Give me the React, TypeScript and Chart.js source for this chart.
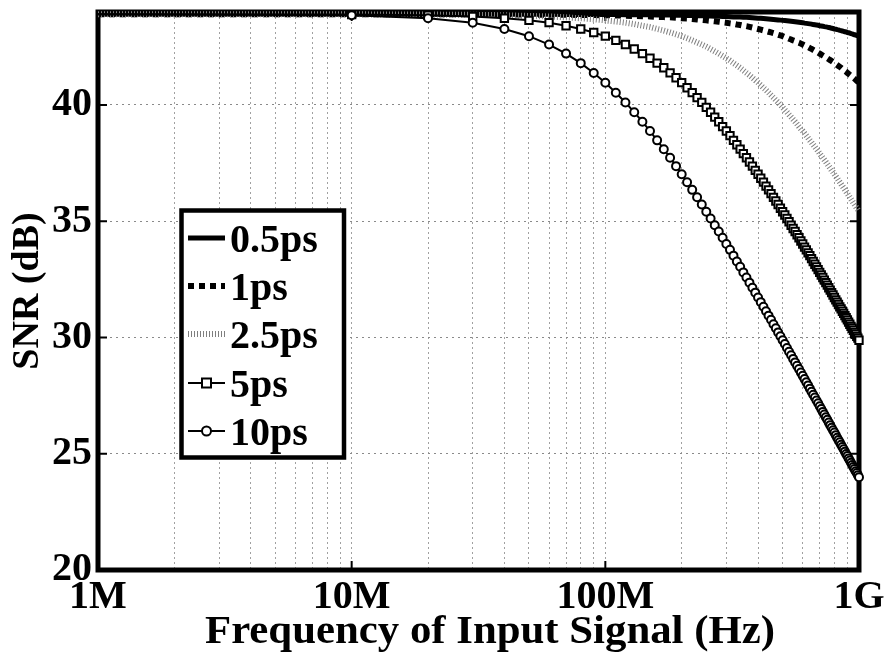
import React, { useEffect, useRef } from 'react';
import { Chart, registerables } from 'chart.js';

Chart.register(...registerables);

// Input frequency (MHz)
const freqMHz = [
  1,
  10, 20, 30, 40, 50, 60, 70, 80, 90, 100,
  110, 120, 130, 140, 150, 160, 170, 180, 190, 200,
  210, 220, 230, 240, 250, 260, 270, 280, 290, 300,
  310, 320, 330, 340, 350, 360, 370, 380, 390, 400,
  410, 420, 430, 440, 450, 460, 470, 480, 490, 500,
  510, 520, 530, 540, 550, 560, 570, 580, 590, 600,
  610, 620, 630, 640, 650, 660, 670, 680, 690, 700,
  710, 720, 730, 740, 750, 760, 770, 780, 790, 800,
  810, 820, 830, 840, 850, 860, 870, 880, 890, 900,
  910, 920, 930, 940, 950, 960, 970, 980, 990, 1000,
];

const snr05ps = [
  43.90,
  43.90, 43.90, 43.90, 43.90, 43.90, 43.90, 43.89, 43.89, 43.89, 43.89,
  43.89, 43.88, 43.88, 43.88, 43.88, 43.87, 43.87, 43.87, 43.86, 43.86,
  43.85, 43.85, 43.84, 43.84, 43.83, 43.83, 43.82, 43.82, 43.81, 43.81,
  43.80, 43.79, 43.79, 43.78, 43.77, 43.77, 43.76, 43.75, 43.74, 43.73,
  43.73, 43.72, 43.71, 43.70, 43.69, 43.68, 43.67, 43.66, 43.65, 43.64,
  43.63, 43.62, 43.61, 43.60, 43.59, 43.58, 43.57, 43.56, 43.55, 43.54,
  43.52, 43.51, 43.50, 43.49, 43.48, 43.46, 43.45, 43.44, 43.43, 43.41,
  43.40, 43.39, 43.37, 43.36, 43.35, 43.33, 43.32, 43.30, 43.29, 43.27,
  43.26, 43.24, 43.23, 43.21, 43.20, 43.18, 43.17, 43.15, 43.14, 43.12,
  43.11, 43.09, 43.07, 43.06, 43.04, 43.02, 43.01, 42.99, 42.98, 42.96,
];

const snr1ps = [
  43.90,
  43.90, 43.90, 43.90, 43.89, 43.89, 43.88, 43.88, 43.87, 43.87, 43.86,
  43.85, 43.84, 43.83, 43.82, 43.81, 43.79, 43.78, 43.77, 43.75, 43.73,
  43.72, 43.70, 43.68, 43.66, 43.64, 43.62, 43.60, 43.58, 43.56, 43.54,
  43.51, 43.49, 43.46, 43.44, 43.41, 43.39, 43.36, 43.33, 43.30, 43.27,
  43.24, 43.21, 43.18, 43.15, 43.12, 43.09, 43.06, 43.02, 42.99, 42.96,
  42.92, 42.89, 42.85, 42.82, 42.78, 42.75, 42.71, 42.68, 42.64, 42.60,
  42.56, 42.52, 42.49, 42.45, 42.41, 42.37, 42.33, 42.29, 42.25, 42.21,
  42.17, 42.13, 42.09, 42.05, 42.01, 41.97, 41.93, 41.89, 41.85, 41.80,
  41.76, 41.72, 41.68, 41.64, 41.60, 41.55, 41.51, 41.47, 41.43, 41.38,
  41.34, 41.30, 41.26, 41.21, 41.17, 41.13, 41.09, 41.04, 41.00, 40.96,
];

const snr25ps = [
  43.90,
  43.90, 43.89, 43.88, 43.86, 43.83, 43.81, 43.77, 43.73, 43.69, 43.64,
  43.59, 43.54, 43.48, 43.41, 43.35, 43.27, 43.20, 43.12, 43.04, 42.96,
  42.87, 42.78, 42.69, 42.60, 42.51, 42.41, 42.31, 42.21, 42.11, 42.01,
  41.91, 41.80, 41.70, 41.60, 41.49, 41.38, 41.28, 41.17, 41.06, 40.96,
  40.85, 40.74, 40.64, 40.53, 40.42, 40.32, 40.21, 40.11, 40.00, 39.90,
  39.79, 39.69, 39.58, 39.48, 39.38, 39.28, 39.18, 39.07, 38.97, 38.88,
  38.78, 38.68, 38.58, 38.48, 38.39, 38.29, 38.20, 38.10, 38.01, 37.91,
  37.82, 37.73, 37.64, 37.55, 37.46, 37.37, 37.28, 37.19, 37.11, 37.02,
  36.93, 36.85, 36.76, 36.68, 36.60, 36.51, 36.43, 36.35, 36.27, 36.19,
  36.11, 36.03, 35.95, 35.87, 35.79, 35.72, 35.64, 35.56, 35.49, 35.41,
];

const snr5ps = [
  43.90,
  43.89, 43.86, 43.81, 43.73, 43.64, 43.54, 43.41, 43.27, 43.12, 42.96,
  42.78, 42.60, 42.41, 42.21, 42.01, 41.80, 41.60, 41.38, 41.17, 40.96,
  40.74, 40.53, 40.32, 40.11, 39.90, 39.69, 39.48, 39.28, 39.07, 38.88,
  38.68, 38.48, 38.29, 38.10, 37.91, 37.73, 37.55, 37.37, 37.19, 37.02,
  36.85, 36.68, 36.51, 36.35, 36.19, 36.03, 35.87, 35.72, 35.56, 35.41,
  35.27, 35.12, 34.98, 34.83, 34.69, 34.56, 34.42, 34.29, 34.15, 34.02,
  33.89, 33.77, 33.64, 33.52, 33.39, 33.27, 33.15, 33.04, 32.92, 32.80,
  32.69, 32.58, 32.47, 32.36, 32.25, 32.14, 32.04, 31.93, 31.83, 31.72,
  31.62, 31.52, 31.42, 31.32, 31.23, 31.13, 31.04, 30.94, 30.85, 30.76,
  30.66, 30.57, 30.48, 30.40, 30.31, 30.22, 30.14, 30.05, 29.97, 29.88,
];

const snr10ps = [
  43.90,
  43.86, 43.73, 43.54, 43.27, 42.96, 42.60, 42.21, 41.80, 41.38, 40.96,
  40.53, 40.11, 39.69, 39.28, 38.88, 38.48, 38.10, 37.73, 37.37, 37.02,
  36.68, 36.35, 36.03, 35.72, 35.41, 35.12, 34.83, 34.56, 34.29, 34.02,
  33.77, 33.52, 33.27, 33.04, 32.80, 32.58, 32.36, 32.14, 31.93, 31.72,
  31.52, 31.32, 31.13, 30.94, 30.76, 30.57, 30.40, 30.22, 30.05, 29.88,
  29.72, 29.55, 29.39, 29.24, 29.08, 28.93, 28.78, 28.64, 28.49, 28.35,
  28.21, 28.07, 27.94, 27.80, 27.67, 27.54, 27.42, 27.29, 27.17, 27.04,
  26.92, 26.80, 26.69, 26.57, 26.46, 26.34, 26.23, 26.12, 26.01, 25.91,
  25.80, 25.69, 25.59, 25.49, 25.39, 25.29, 25.19, 25.09, 24.99, 24.90,
  24.80, 24.71, 24.61, 24.52, 24.43, 24.34, 24.25, 24.17, 24.08, 23.99,
];

const seriesLabels = ['0.5ps', '1ps', '2.5ps', '5ps', '10ps'];
const xTickValues = [1e6, 1e7, 1e8, 1e9];
const xTickLabels = ['1M', '10M', '100M', '1G'];
const yTickValues = [20, 25, 30, 35, 40];
const xTitle = 'Frequency of Input Signal (Hz)';
const yTitle = 'SNR (dB)';

const FONT = '"Liberation Serif", "Times New Roman", Times, serif';

const toPoints = (ys: number[]) => ys.map((y, i) => ({ x: freqMHz[i] * 1e6, y }));
const markerRadii = (r: number) => freqMHz.map((_, i) => (i === 0 ? 0 : r));

const framePlugin = {
  id: 'matlabFrame',
  beforeDatasetsDraw(chart: any) {
    const { ctx, chartArea: a, scales } = chart;
    ctx.save();
    ctx.strokeStyle = '#000';
    ctx.lineWidth = 2;
    ctx.beginPath();
    xTickValues.forEach((v) => {
      const px = scales.x.getPixelForValue(v);
      ctx.moveTo(px, a.bottom);
      ctx.lineTo(px, a.bottom - 9);
      ctx.moveTo(px, a.top);
      ctx.lineTo(px, a.top + 9);
    });
    yTickValues.forEach((v) => {
      const py = scales.y.getPixelForValue(v);
      ctx.moveTo(a.left, py);
      ctx.lineTo(a.left + 9, py);
      ctx.moveTo(a.right, py);
      ctx.lineTo(a.right - 9, py);
    });
    ctx.stroke();
    ctx.lineWidth = 5;
    ctx.strokeRect(a.left, a.top, a.right - a.left, a.bottom - a.top);
    ctx.restore();
  },
};

// x-axis title, drawn slightly widened like the reference figure
const xTitlePlugin = {
  id: 'xTitle',
  afterDraw(chart: any) {
    const ctx = chart.ctx;
    ctx.save();
    ctx.font = `bold 40px ${FONT}`;
    const w = ctx.measureText(xTitle).width;
    const sx = 570 / w;
    ctx.translate(490, 643);
    ctx.scale(sx, 1);
    ctx.fillStyle = '#000';
    ctx.textAlign = 'center';
    ctx.textBaseline = 'alphabetic';
    ctx.fillText(xTitle, 0, 0);
    ctx.restore();
  },
};

const legendPlugin = {
  id: 'boxLegend',
  afterDraw(chart: any) {
    const ctx = chart.ctx;
    const bx = 181.5, by = 210.5, bw = 162.5, bh = 247;
    ctx.save();
    ctx.fillStyle = '#fff';
    ctx.fillRect(bx, by, bw, bh);
    ctx.lineWidth = 4.5;
    ctx.strokeStyle = '#000';
    ctx.strokeRect(bx, by, bw, bh);
    const datasets = chart.data.datasets;
    const x0 = 188, x1 = 225, tx = 230;
    const baselines = [252, 300, 348, 397, 445];
    seriesLabels.forEach((label, i) => {
      const ds = datasets[i];
      const base = baselines[i];
      const ly = base - 14;
      ctx.save();
      ctx.strokeStyle = ds.borderColor;
      ctx.lineWidth = ds.borderWidth;
      ctx.lineCap = 'butt';
      ctx.setLineDash(ds.borderDash || []);
      ctx.beginPath();
      ctx.moveTo(x0, ly);
      ctx.lineTo(x1, ly);
      ctx.stroke();
      ctx.setLineDash([]);
      const mx = (x0 + x1) / 2;
      if (ds.pointStyle === 'rect') {
        ctx.fillStyle = '#fff';
        ctx.lineWidth = 2;
        ctx.strokeStyle = '#000';
        ctx.fillRect(mx - 4.5, ly - 4.5, 9, 9);
        ctx.strokeRect(mx - 4.5, ly - 4.5, 9, 9);
      } else if (ds.pointStyle === 'circle') {
        ctx.fillStyle = '#fff';
        ctx.lineWidth = 2;
        ctx.strokeStyle = '#000';
        ctx.beginPath();
        ctx.arc(mx, ly, 4.5, 0, Math.PI * 2);
        ctx.fill();
        ctx.stroke();
      }
      ctx.restore();
      ctx.fillStyle = '#000';
      ctx.font = `bold 40px ${FONT}`;
      ctx.textAlign = 'left';
      ctx.textBaseline = 'alphabetic';
      ctx.fillText(label, tx, base);
    });
    ctx.restore();
  },
};

export default function App() {
  const canvasRef = useRef<HTMLCanvasElement | null>(null);

  useEffect(() => {
    if (!canvasRef.current) return;
    Chart.defaults.color = '#000';
    Chart.defaults.font.family = FONT;

    const minorGrid: number[] = [];
    [1e6, 1e7, 1e8].forEach((d) => {
      for (let k = 1; k <= 9; k++) minorGrid.push(k * d);
    });
    minorGrid.push(1e9);

    const chart = new Chart(canvasRef.current, {
      type: 'line',
      data: {
        datasets: [
          {
            label: seriesLabels[0],
            data: toPoints(snr05ps),
            borderColor: '#000',
            borderWidth: 5,
            pointRadius: 0,
            fill: false,
            order: 4,
            clip: false,
          },
          {
            label: seriesLabels[1],
            data: toPoints(snr1ps),
            borderColor: '#000',
            borderWidth: 6,
            borderDash: [6, 5],
            borderCapStyle: 'butt',
            pointRadius: 0,
            fill: false,
            order: 3,
            clip: false,
          },
          {
            label: seriesLabels[2],
            data: toPoints(snr25ps),
            borderColor: '#7f7f7f',
            borderWidth: 6,
            borderDash: [1, 2],
            borderCapStyle: 'butt',
            pointRadius: 0,
            fill: false,
            order: 2,
            clip: false,
          },
          {
            label: seriesLabels[3],
            data: toPoints(snr5ps),
            borderColor: '#000',
            borderWidth: 2,
            pointStyle: 'rect',
            pointRadius: markerRadii(5.2),
            pointBorderWidth: 2,
            pointBorderColor: '#000',
            pointBackgroundColor: '#fff',
            fill: false,
            order: 1,
            clip: false,
          },
          {
            label: seriesLabels[4],
            data: toPoints(snr10ps),
            borderColor: '#000',
            borderWidth: 2,
            pointStyle: 'circle',
            pointRadius: markerRadii(4),
            pointBorderWidth: 2,
            pointBorderColor: '#000',
            pointBackgroundColor: '#fff',
            fill: false,
            order: 0,
            clip: false,
          },
        ] as any,
      },
      options: {
        responsive: false,
        animation: false,
        events: [],
        layout: { padding: { left: 0, right: 28, top: 12, bottom: 0 } },
        plugins: {
          legend: { display: false },
          tooltip: { enabled: false },
        },
        elements: { line: { tension: 0 } },
        scales: {
          x: {
            type: 'logarithmic',
            min: 1e6,
            max: 1e9,
            afterBuildTicks: (scale: any) => {
              scale.ticks = minorGrid.map((v) => ({ value: v }));
            },
            afterFit: (scale: any) => {
              scale.height = 82;
              scale.paddingLeft = 0;
              scale.paddingRight = 0;
            },
            ticks: {
              autoSkip: false,
              maxRotation: 0,
              minRotation: 0,
              padding: 4,
              color: '#000',
              font: { family: FONT, size: 40, weight: 'bold' },
              callback: (value: any) => {
                const idx = xTickValues.indexOf(Number(value));
                return idx >= 0 ? xTickLabels[idx] : '';
              },
            },
            grid: {
              color: '#a0a0a0',
              lineWidth: 1,
              drawTicks: false,
            },
            border: { display: false, dash: [2, 3] },
            title: { display: false },
          },
          y: {
            type: 'linear',
            min: 20,
            max: 44,
            afterBuildTicks: (scale: any) => {
              scale.ticks = yTickValues.map((v) => ({ value: v }));
            },
            afterFit: (scale: any) => {
              scale.width = 98;
              scale.paddingTop = 0;
              scale.paddingBottom = 0;
            },
            ticks: {
              padding: 6,
              color: '#000',
              font: { family: FONT, size: 40, weight: 'bold' },
              callback: (value: any) => String(value),
            },
            grid: {
              color: '#8a8a8a',
              lineWidth: 1,
              drawTicks: false,
            },
            border: { display: false, dash: [2, 4] },
            title: {
              display: true,
              text: yTitle,
              color: '#000',
              font: { family: FONT, size: 38, weight: 'bold', lineHeight: 1.2 },
              padding: { top: 5, bottom: 0 },
            },
          },
        },
      } as any,
      plugins: [framePlugin, xTitlePlugin, legendPlugin],
    });

    return () => chart.destroy();
  }, []);

  return (
    <div style={{ position: 'absolute', left: 0, top: 0, width: 887, height: 652, background: '#fff' }}>
      <canvas ref={canvasRef} width={887} height={652} style={{ display: 'block' }} />
    </div>
  );
}
